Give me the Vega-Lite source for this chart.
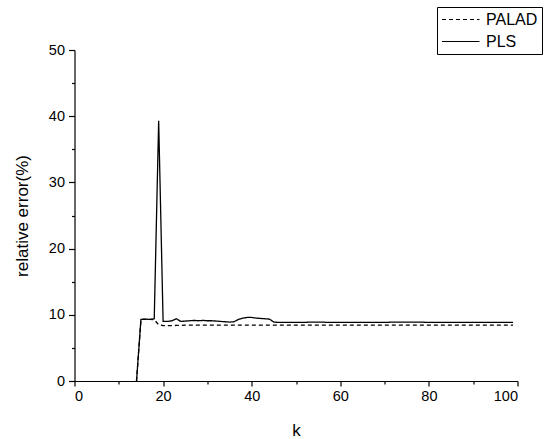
{
  "$schema": "https://vega.github.io/schema/vega-lite/v6.json",
  "width": 443,
  "height": 331,
  "autosize": "none",
  "padding": {"left": 74.5, "top": 50, "right": 32.5, "bottom": 58},
  "background": "white",
  "config": {
    "view": {"stroke": null},
    "font": "Liberation Sans",
    "axis": {
      "domainColor": "black", "tickColor": "black", "labelColor": "black", "titleColor": "black",
      "grid": false, "labelFont": "Liberation Sans", "titleFont": "Liberation Sans",
      "labelFontSize": 14.5, "titleFontSize": 17, "titleFontWeight": "normal", "domainWidth": 1.2, "tickWidth": 1.2
    }
  },
  "data": {
    "values": [
      {"k":14,"s":"PLS","e":0},{"k":15,"s":"PLS","e":9.3},{"k":16,"s":"PLS","e":9.35},{"k":17,"s":"PLS","e":9.3},{"k":18,"s":"PLS","e":9.4},{"k":19,"s":"PLS","e":39.3},{"k":20,"s":"PLS","e":9.0},{"k":21,"s":"PLS","e":9.0},{"k":22,"s":"PLS","e":9.1},{"k":23,"s":"PLS","e":9.4},{"k":24,"s":"PLS","e":9.0},{"k":25,"s":"PLS","e":9.05},{"k":26,"s":"PLS","e":9.1},{"k":27,"s":"PLS","e":9.15},{"k":28,"s":"PLS","e":9.1},{"k":29,"s":"PLS","e":9.15},{"k":30,"s":"PLS","e":9.1},{"k":31,"s":"PLS","e":9.1},{"k":32,"s":"PLS","e":9.05},{"k":33,"s":"PLS","e":9.0},{"k":34,"s":"PLS","e":8.95},{"k":35,"s":"PLS","e":8.9},{"k":36,"s":"PLS","e":8.95},{"k":37,"s":"PLS","e":9.3},{"k":38,"s":"PLS","e":9.5},{"k":39,"s":"PLS","e":9.6},{"k":40,"s":"PLS","e":9.6},{"k":41,"s":"PLS","e":9.5},{"k":42,"s":"PLS","e":9.45},{"k":43,"s":"PLS","e":9.4},{"k":44,"s":"PLS","e":9.35},{"k":45,"s":"PLS","e":8.9},{"k":46,"s":"PLS","e":8.85},{"k":47,"s":"PLS","e":8.85},{"k":48,"s":"PLS","e":8.85},{"k":49,"s":"PLS","e":8.85},{"k":50,"s":"PLS","e":8.85},{"k":51,"s":"PLS","e":8.85},{"k":52,"s":"PLS","e":8.85},{"k":53,"s":"PLS","e":8.9},{"k":54,"s":"PLS","e":8.9},{"k":55,"s":"PLS","e":8.9},{"k":56,"s":"PLS","e":8.9},{"k":57,"s":"PLS","e":8.85},{"k":58,"s":"PLS","e":8.85},{"k":59,"s":"PLS","e":8.85},{"k":60,"s":"PLS","e":8.85},{"k":62,"s":"PLS","e":8.85},{"k":64,"s":"PLS","e":8.85},{"k":66,"s":"PLS","e":8.85},{"k":68,"s":"PLS","e":8.85},{"k":70,"s":"PLS","e":8.85},{"k":72,"s":"PLS","e":8.9},{"k":74,"s":"PLS","e":8.9},{"k":76,"s":"PLS","e":8.9},{"k":78,"s":"PLS","e":8.9},{"k":80,"s":"PLS","e":8.85},{"k":83,"s":"PLS","e":8.85},{"k":86,"s":"PLS","e":8.85},{"k":90,"s":"PLS","e":8.85},{"k":94,"s":"PLS","e":8.85},{"k":99,"s":"PLS","e":8.85},
      {"k":14,"s":"PALAD","e":0},{"k":15,"s":"PALAD","e":9.3},{"k":16,"s":"PALAD","e":9.3},{"k":17,"s":"PALAD","e":9.3},{"k":18,"s":"PALAD","e":9.25},{"k":19,"s":"PALAD","e":8.5},{"k":20,"s":"PALAD","e":8.35},{"k":21,"s":"PALAD","e":8.35},{"k":22,"s":"PALAD","e":8.35},{"k":23,"s":"PALAD","e":8.4},{"k":24,"s":"PALAD","e":8.4},{"k":25,"s":"PALAD","e":8.45},{"k":30,"s":"PALAD","e":8.45},{"k":40,"s":"PALAD","e":8.45},{"k":50,"s":"PALAD","e":8.45},{"k":60,"s":"PALAD","e":8.45},{"k":70,"s":"PALAD","e":8.45},{"k":80,"s":"PALAD","e":8.45},{"k":90,"s":"PALAD","e":8.45},{"k":99,"s":"PALAD","e":8.45}
    ]
  },
  "layer": [
    {
      "mark": {"type": "line", "color": "black", "strokeWidth": 1.3},
      "encoding": {
        "x": {"field": "k", "type": "quantitative", "scale": {"domain": [0, 100], "nice": false},
              "axis": {"title": "k", "values": [0,20,40,60,80,100], "tickSize": 5, "labelPadding": 3, "titlePadding": 20}},
        "y": {"field": "e", "type": "quantitative", "scale": {"domain": [0, 50], "nice": false},
              "axis": {"title": "relative error(%)", "values": [0,10,20,30,40,50], "tickSize": 6, "labelPadding": 4, "titlePadding": 17}},
        "strokeDash": {"field": "s", "type": "nominal",
          "scale": {"domain": ["PALAD", "PLS"], "range": [[4, 3], [1, 0]]},
          "legend": {"title": null, "orient": "none", "legendX": 362.5, "legendY": -43,
            "symbolType": "M-1,0H4", "symbolSize": 225, "symbolStrokeColor": "black", "symbolStrokeWidth": 1.2, "symbolFillColor": "transparent",
            "labelFontSize": 16, "labelFont": "Liberation Sans", "labelColor": "black",
            "strokeColor": "black", "padding": 4, "rowPadding": 5, "labelOffset": 28, "fillColor": "white"}}
      }
    },
    {
      "mark": {"type": "point", "opacity": 0},
      "encoding": {
        "x": {"field": "k", "type": "quantitative", "scale": {"domain": [0, 100], "nice": false},
              "axis": {"orient": "bottom", "title": null, "values": [10,30,50,70,90], "labels": false, "domain": false, "tickSize": 3}},
        "y": {"field": "e", "type": "quantitative", "scale": {"domain": [0, 50], "nice": false},
              "axis": {"orient": "left", "title": null, "values": [5,15,25,35,45], "labels": false, "domain": false, "tickSize": 3}}
      }
    }
  ],
  "resolve": {"axis": {"x": "independent", "y": "independent"}}
}
